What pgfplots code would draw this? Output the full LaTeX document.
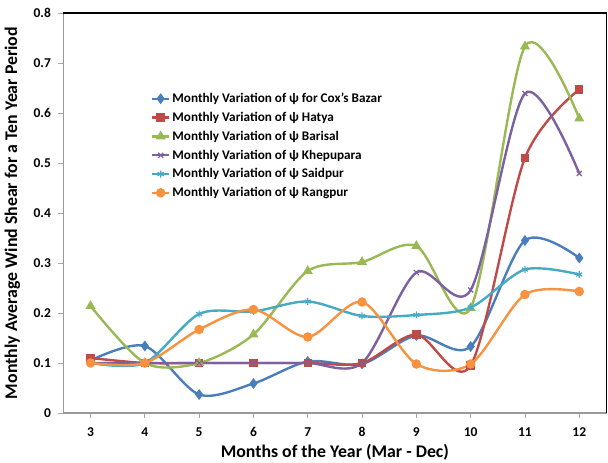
\documentclass[border=0pt]{standalone}
\usepackage{pgfplots}
\pgfplotsset{compat=1.18}
\usepackage{fontspec}
\setmainfont{Carlito}
\usetikzlibrary{plotmarks}
\definecolor{cblue}{HTML}{4A7EBB}
\definecolor{cred}{HTML}{BE4B48}
\definecolor{cgreen}{HTML}{98B954}
\definecolor{cpurple}{HTML}{7D60A0}
\definecolor{cteal}{HTML}{46AAC5}
\definecolor{corange}{HTML}{F69240}
\begin{document}
\begin{tikzpicture}
\useasboundingbox (-63.4pt,-50pt) rectangle (544.6pt,413pt);
\begin{axis}[
  scale only axis,
  width=543pt, height=400pt,
  xmin=2.5, xmax=12.5, ymin=0, ymax=0.8,
  xtick={3,4,5,6,7,8,9,10,11,12},
  ytick={0,0.1,0.2,0.3,0.4,0.5,0.6,0.7,0.8},
  yticklabels={0,0.1,0.2,0.3,0.4,0.5,0.6,0.7,0.8},
  xticklabels={3,4,5,6,7,8,9,10,11,12},
  tick label style={font=\bfseries\fontsize{13.5}{14}\selectfont},
  xticklabel style={yshift=-6pt},
  yticklabel style={xshift=-4pt},
  tick align=outside,
  major tick length=5pt,
  tick style={gray!70, line width=0.8pt},
  axis line style={gray!80, line width=1.3pt},
  xtick pos=bottom, ytick pos=left,
  xlabel={Months of the Year (Mar - Dec)},
  ylabel={Monthly Average Wind Shear for a Ten Year Period},
  label style={font=\bfseries\fontsize{17.8}{18}\selectfont},
  xlabel style={at={(axis description cs:0.5,0)}, anchor=center, yshift=-39pt},
  ylabel style={at={(axis description cs:0,0.5)}, anchor=center, rotate=0, yshift=51pt},
  legend style={draw=none, fill=none, at={(axis description cs:0.159,0.8075)}, anchor=north west,
    font=\bfseries\fontsize{13.2}{14}\selectfont, row sep=4pt, inner sep=1pt},
  legend cell align=left,
  every axis plot/.append style={line width=2.4pt, smooth, tension=0.5},
  clip=false,
]
\addplot[cblue, mark=diamond*, mark size=3.5pt, mark options={solid, fill=cblue}] coordinates {
 (3,0.105) (4,0.134) (5,0.037) (6,0.059) (7,0.103) (8,0.098) (9,0.155) (10,0.133) (11,0.345) (12,0.31)};
\addlegendentry{Monthly Variation of ψ for Cox's Bazar}
\addplot[cred, mark=square*, mark size=3pt, mark options={solid, fill=cred}] coordinates {
 (3,0.11) (4,0.1) (5,0.1) (6,0.1) (7,0.1) (8,0.1) (9,0.157) (10,0.095) (11,0.51) (12,0.647)};
\addlegendentry{Monthly Variation of ψ Hatya}
\addplot[cgreen, mark=triangle*, mark size=3.5pt, mark options={solid, fill=cgreen}] coordinates {
 (3,0.214) (4,0.1) (5,0.1) (6,0.157) (7,0.284) (8,0.302) (9,0.334) (10,0.21) (11,0.733) (12,0.589)};
\addlegendentry{Monthly Variation of ψ Barisal}
\addplot[cpurple, mark=x, mark size=3.5pt, mark options={solid, line width=1.2pt}] coordinates {
 (3,0.1) (4,0.1) (5,0.1) (6,0.1) (7,0.1) (8,0.1) (9,0.281) (10,0.246) (11,0.639) (12,0.479)};
\addlegendentry{Monthly Variation of ψ Khepupara}
\addplot[cteal, mark=asterisk, mark size=3.5pt, mark options={solid, line width=1.2pt}] coordinates {
 (3,0.1) (4,0.1) (5,0.198) (6,0.203) (7,0.223) (8,0.194) (9,0.196) (10,0.211) (11,0.287) (12,0.277)};
\addlegendentry{Monthly Variation of ψ Saidpur}
\addplot[corange, mark=*, mark size=3.5pt, mark options={solid, fill=corange}] coordinates {
 (3,0.1) (4,0.1) (5,0.167) (6,0.207) (7,0.152) (8,0.222) (9,0.098) (10,0.098) (11,0.237) (12,0.243)};
\addlegendentry{Monthly Variation of ψ Rangpur}
\draw[black, line width=1.6pt] (rel axis cs:0,1) -- (rel axis cs:1,1) -- (rel axis cs:1,0);
\end{axis}
\end{tikzpicture}
\end{document}
